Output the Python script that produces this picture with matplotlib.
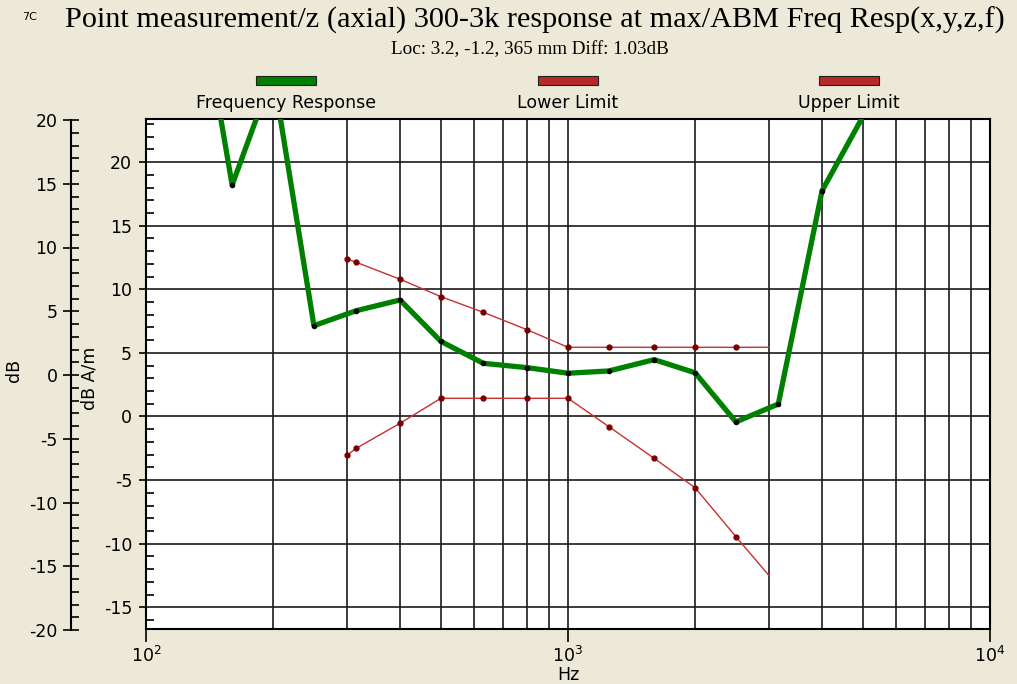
import matplotlib
matplotlib.use("Agg")
import matplotlib.pyplot as plt
from matplotlib.ticker import MultipleLocator, LogLocator, NullFormatter, FixedLocator
from matplotlib.patches import Rectangle

plt.rcParams["axes.unicode_minus"] = False

# ---------------- data ----------------
title = "Point measurement/z (axial) 300-3k response at max/ABM Freq Resp(x,y,z,f)"
subtitle = "Loc: 3.2, -1.2, 365 mm Diff: 1.03dB"
series_names = ["Frequency Response", "Lower Limit", "Upper Limit"]

resp_freq = [125, 160, 200, 250, 315, 400, 500, 630, 800, 1000, 1250, 1600,
             2000, 2500, 3150, 4000, 5000]
resp_db = [39.0, 18.2, 27.0, 7.14, 8.32, 9.16, 5.9, 4.18, 3.84, 3.40, 3.58,
           4.47, 3.44, -0.43, 0.98, 17.75, 23.6]

limit_freq = [300, 315, 400, 500, 630, 800, 1000, 1250, 1600, 2000, 2500, 3000]
upper_db = [12.38, 12.12, 10.79, 9.42, 8.19, 6.82, 5.44, 5.44, 5.44, 5.44, 5.44, 5.44]
lower_db = [-3.03, -2.5, -0.53, 1.43, 1.43, 1.43, 1.43, -0.8, -3.29, -5.6, -9.45, -12.54]

inner_ticks = [-15, -10, -5, 0, 5, 10, 15, 20]
outer_ticks = [-20, -15, -10, -5, 0, 5, 10, 15, 20]

# ---------------- figure ----------------
W, H = 1017, 684
BG = "#ECE9D8"
GREEN = "#008000"
RED = "#C83030"
DARKRED = "#7A0000"
GRID = "#1a1a1a"

fig = plt.figure(figsize=(W / 100, H / 100), dpi=100, facecolor=BG)


def fy(py):
    return 1 - py / H


ax = fig.add_axes([146 / W, fy(629), (990 - 146) / W, (629 - 119) / H])
ax.set_facecolor("white")
ax.set_xscale("log")
ax.set_xlim(100, 10000)
ax.set_ylim(-16.71, 23.39)

ax.plot(limit_freq, upper_db, color=RED, lw=1.0, marker="o", ms=3.5,
        mfc=DARKRED, mec=DARKRED, markevery=list(range(len(limit_freq) - 1)), zorder=3)
ax.plot(limit_freq, lower_db, color=RED, lw=1.0, marker="o", ms=3.5,
        mfc=DARKRED, mec=DARKRED, markevery=list(range(len(limit_freq) - 1)), zorder=3)
ax.plot(resp_freq, resp_db, color=GREEN, lw=3.8, marker="o", ms=3.0,
        mfc="black", mec="black", solid_joinstyle="round", zorder=4)

ax.yaxis.set_major_locator(FixedLocator(inner_ticks))
ax.yaxis.set_minor_locator(MultipleLocator(1))
ax.xaxis.set_major_locator(LogLocator(base=10, numticks=10))
ax.xaxis.set_minor_locator(LogLocator(base=10, subs=range(2, 10), numticks=20))
ax.xaxis.set_minor_formatter(NullFormatter())

ax.tick_params(axis="y", which="major", direction="out", length=5, width=1.2,
               labelsize=12.5, pad=5, colors="black")
ax.tick_params(axis="y", which="minor", direction="in", length=6, width=1.2)
ax.tick_params(axis="x", which="major", direction="out", length=9, width=1.2,
               labelsize=12.5, pad=3)
ax.tick_params(axis="x", which="minor", length=0)
ax.grid(True, which="major", axis="both", color=GRID, lw=1.2, zorder=1)
ax.grid(True, which="minor", axis="x", color=GRID, lw=1.2, zorder=1)
ax.set_axisbelow(True)
for s in ax.spines.values():
    s.set_color("black")
    s.set_linewidth(1.5)

ax.set_xlabel("Hz", fontsize=12.5, labelpad=0)

# outer dB axis
ax2 = fig.add_axes([70.7 / W, fy(630), 0.0005, 510 / H])
ax2.patch.set_visible(False)
ax2.set_ylim(-20, 20)
ax2.set_xticks([])
for k in ["top", "right", "bottom"]:
    ax2.spines[k].set_visible(False)
ax2.spines["left"].set_linewidth(1.5)
ax2.yaxis.set_major_locator(FixedLocator(outer_ticks))
ax2.yaxis.set_minor_locator(MultipleLocator(1))
ax2.tick_params(axis="y", which="major", direction="inout", length=11, width=1.2,
                labelsize=12.5, pad=4)
ax2.tick_params(axis="y", which="minor", direction="in", length=6, width=1.2)

fig.text(14 / W, fy(370), "dB", rotation=90, ha="center", va="center", fontsize=12.5)
fig.text(90 / W, fy(378), "dB A/m", rotation=90, ha="center", va="center", fontsize=12.5)

# titles
fig.text(535 / W, fy(20), title, ha="center", va="center",
         family="Liberation Serif", fontsize=21.8)
fig.text(530 / W, fy(50), subtitle, ha="center", va="center",
         family="Liberation Serif", fontsize=13.8)
fig.text(30 / W, fy(17), "7C", ha="center", va="center", fontsize=8)

# legend
legend_centers = [286, 567.5, 849]
legend_colors = [GREEN, "#B82828", "#B82828"]
for name, cx, col in zip(series_names, legend_centers, legend_colors):
    fig.add_artist(Rectangle(((cx - 30) / W, fy(85)), 60 / W, 9 / H,
                             transform=fig.transFigure, facecolor=col,
                             edgecolor="#202020", lw=0.8))
    fig.text(cx / W, fy(103), name, ha="center", va="center", fontsize=12.5)

fig.savefig("out.png", dpi=100, facecolor=BG)
